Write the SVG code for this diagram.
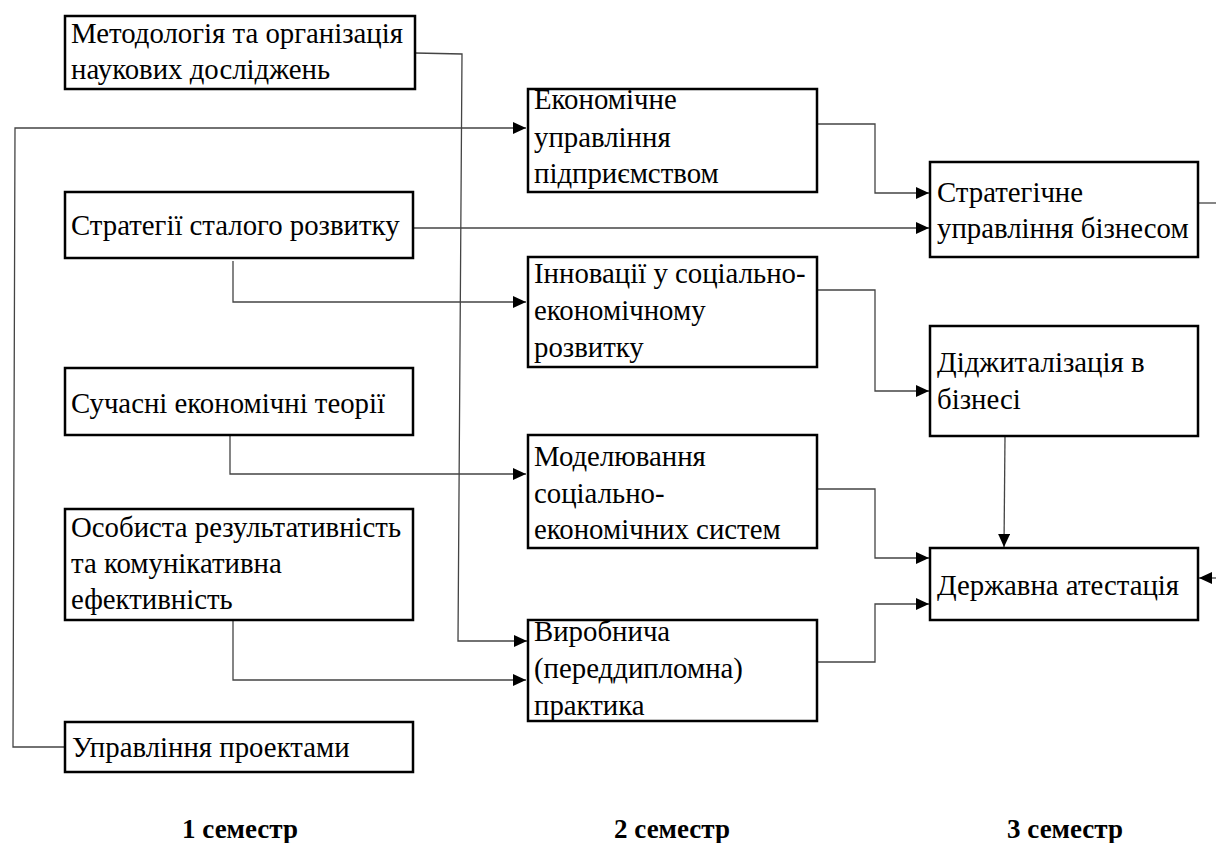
<svg xmlns="http://www.w3.org/2000/svg" width="1216" height="843" viewBox="0 0 1216 843">
<style>
.box{fill:#fff;stroke:#000;stroke-width:2.5}
.t{font-family:"Liberation Serif","Times New Roman",serif;font-size:28.8px;fill:#000}
.s{font-family:"Liberation Serif","Times New Roman",serif;font-size:27px;font-weight:bold;fill:#000;text-anchor:middle}
.c{fill:none;stroke:#444;stroke-width:1.3}
</style>
<defs>
<marker id="a" markerUnits="userSpaceOnUse" markerWidth="14" markerHeight="12" refX="13" refY="6" orient="auto">
<path d="M0,0 L13,6 L0,12 Z" fill="#000"/>
</marker>
</defs>
<rect width="1216" height="843" fill="#fff"/>
<g id="connectors">
<path class="c" d="M415,53 L462,54 L458,641 L527,641" marker-end="url(#a)"/>
<path class="c" d="M65,747 L13,747 L15,128 L526,128" marker-end="url(#a)"/>
<path class="c" d="M413,228 L929,228" marker-end="url(#a)"/>
<path class="c" d="M233,261 L233,302 L526,302" marker-end="url(#a)"/>
<path class="c" d="M230,436 L230,474 L526,474" marker-end="url(#a)"/>
<path class="c" d="M233,620 L233,680 L526,680" marker-end="url(#a)"/>
<path class="c" d="M818,124 L875,124 L875,193 L929,193" marker-end="url(#a)"/>
<path class="c" d="M818,290 L875,290 L875,391 L929,391" marker-end="url(#a)"/>
<path class="c" d="M818,489 L875,489 L875,558 L929,558" marker-end="url(#a)"/>
<path class="c" d="M818,662 L875,662 L875,604 L929,604" marker-end="url(#a)"/>
<path class="c" d="M1005,436 L1004,547" marker-end="url(#a)"/>
<path class="c" d="M1197,203 L1216,203"/>
<path class="c" d="M1216,578 L1199,578" marker-end="url(#a)"/>
</g>
<g id="n1"><rect class="box" x="65" y="16" width="350" height="73"/>
<text class="t" x="71" y="43">Методологія та організація</text><text class="t" x="71" y="79">наукових досліджень</text></g>
<g id="n2"><rect class="box" x="65" y="192" width="348" height="66"/>
<text class="t" x="71" y="235">Стратегії сталого розвитку</text></g>
<g id="n3"><rect class="box" x="65" y="368" width="348" height="67"/>
<text class="t" x="71" y="413">Сучасні економічні теорії</text></g>
<g id="n4"><rect class="box" x="65" y="509" width="348" height="111"/>
<text class="t" x="71" y="537">Особиста результативність</text><text class="t" x="71" y="573">та комунікативна</text><text class="t" x="71" y="609">ефективність</text></g>
<g id="n5"><rect class="box" x="65" y="722" width="348" height="50"/>
<text class="t" x="72" y="757">Управління проектами</text></g>
<g id="n6"><rect class="box" x="528" y="89" width="289" height="103"/>
<text class="t" x="534" y="109">Економічне</text><text class="t" x="534" y="147">управління</text><text class="t" x="534" y="183">підприємством</text></g>
<g id="n7"><rect class="box" x="528" y="257" width="289" height="110"/>
<text class="t" x="534" y="283">Інновації у соціально-</text><text class="t" x="534" y="320">економічному</text><text class="t" x="534" y="357">розвитку</text></g>
<g id="n8"><rect class="box" x="528" y="435" width="289" height="113"/>
<text class="t" x="534" y="466">Моделювання</text><text class="t" x="534" y="503">соціально-</text><text class="t" x="534" y="539">економічних систем</text></g>
<g id="n9"><rect class="box" x="528" y="620" width="289" height="101"/>
<text class="t" x="534" y="641">Виробнича</text><text class="t" x="534" y="678">(переддипломна)</text><text class="t" x="534" y="715">практика</text></g>
<g id="n10"><rect class="box" x="930" y="162" width="268" height="95"/>
<text class="t" x="937" y="202">Стратегічне</text><text class="t" x="937" y="238">управління бізнесом</text></g>
<g id="n11"><rect class="box" x="930" y="326" width="268" height="110"/>
<text class="t" x="937" y="372">Діджиталізація в</text><text class="t" x="937" y="409">бізнесі</text></g>
<g id="n12"><rect class="box" x="930" y="548" width="268" height="72"/>
<text class="t" x="937" y="595">Державна атестація</text></g>
<g id="labels">
<text class="s" x="240" y="838">1 семестр</text>
<text class="s" x="672" y="838">2 семестр</text>
<text class="s" x="1065" y="838">3 семестр</text>
</g>
</svg>
